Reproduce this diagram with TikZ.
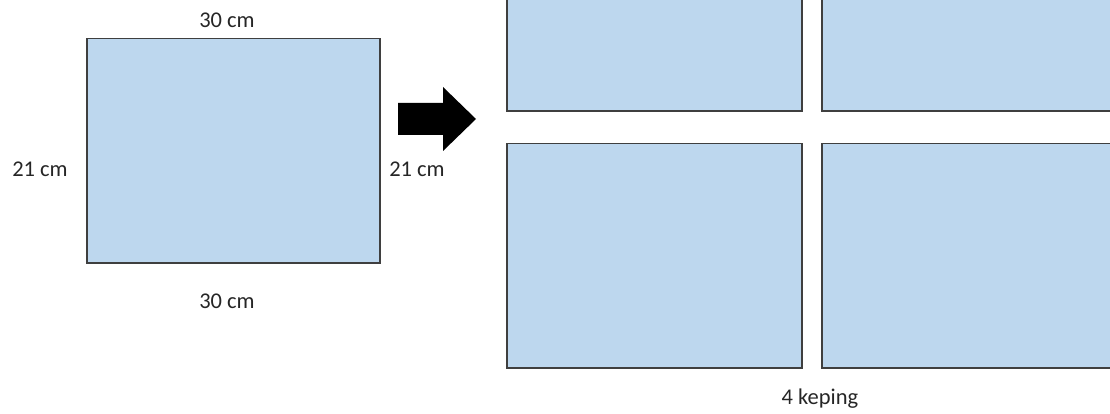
\documentclass[tikz,border=0pt]{standalone}
\usepackage{fontspec}
\setmainfont{Carlito}
\definecolor{sheet}{HTML}{BDD7EE}
\definecolor{edge}{HTML}{3F3F3F}
\begin{document}
\begin{tikzpicture}[x=1pt,y=-1pt,
  sheetbox/.style={draw=edge,fill=sheet,line width=1.5pt,rectangle,inner sep=0pt,anchor=north west},
  lbl/.style={font=\fontsize{22.5}{26}\selectfont,anchor=base,inner sep=0pt,text=black!85}]
\useasboundingbox (0,0) rectangle (1110,414);
\clip (0,0) rectangle (1110,414);
% original sheet
\node[sheetbox,minimum width=293pt,minimum height=224pt] (big) at (86,38) {};
\node[lbl] (top) at (227,28) {30 cm};
\node[lbl] (bot) at (227,308) {30 cm};
\node[lbl] (lft) at (40,177) {21 cm};
\node[lbl] (rgt) at (417,177) {21 cm};
% arrow
\fill[black] (398,103) -- (443,103) -- (443,87) -- (476,119) -- (443,151) -- (443,135) -- (398,135) -- cycle;
% four pieces
\node[sheetbox,minimum width=295pt,minimum height=224pt,anchor=south west] (p1) at (506,112) {};
\node[sheetbox,minimum width=320pt,minimum height=224pt,anchor=south west] (p2) at (821,112) {};
\node[sheetbox,minimum width=295pt,minimum height=224pt] (p3) at (506,143) {};
\node[sheetbox,minimum width=320pt,minimum height=224pt] (p4) at (821,143) {};
\node[lbl] (cnt) at (820,404) {4 keping};
\end{tikzpicture}
\end{document}
